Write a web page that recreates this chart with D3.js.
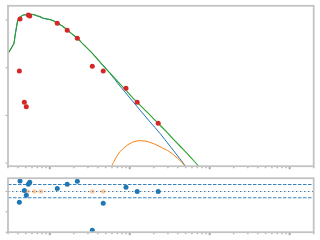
<!DOCTYPE html>
<html>
<head>
<meta charset="utf-8">
<script src="https://cdn.jsdelivr.net/npm/d3@7"></script>
<style>
  html, body { margin: 0; padding: 0; background: #fff; }
  svg { display: block; }
</style>
</head>
<body>
<div id="chart"></div>
<script>
// measured points (red) and their residuals (blue)
const dataX = [0.416, 0.424, 0.480, 0.508, 0.539, 0.561, 1.24, 1.65, 2.21, 3.40, 4.66, 8.97, 12.4, 22.7];
const dataY = [0.0853, 1.05, 0.0188, 0.0152, 1.27, 1.21, 0.853, 0.608, 0.413, 0.107, 0.0853, 0.037, 0.0188, 0.00683];
const resid = [-0.53, 0.51, 0.05, -0.19, 0.35, 0.45, 0.15, 0.35, 0.50, -1.91, -0.58, 0.20, 0.0, 0.0];

// points flagged at zero in the residual panel (orange)
const limX = [0.523, 0.640, 0.776, 3.40, 4.66];
const limY = [0, 0, 0, 0, 0];

// total model (green)
const greenX = [0.300, 0.347, 0.357, 0.367, 0.378, 0.393, 0.404, 0.433, 0.467, 0.514, 0.594, 0.686, 0.754, 0.830, 0.958,
  1.106, 1.277, 1.475, 1.703, 1.967, 2.271, 2.623, 3.497, 4.66, 6.22, 8.29, 11.06, 14.75, 19.67, 23.85, 31.8, 42.4, 56.6, 73.9, 82.2];
const greenY = [0.200, 0.299, 0.330, 0.462, 0.617, 0.908, 1.049, 1.173, 1.273, 1.291, 1.317, 1.230, 1.184, 1.085, 1.049,
  0.967, 0.824, 0.724, 0.588, 0.485, 0.400, 0.310, 0.191, 0.110, 0.0648, 0.0388, 0.0228, 0.01409, 0.00869, 0.00629,
  0.00379, 0.002283, 0.001375, 0.00084, 0.0007];

// first component (blue)
const blueX = [0.300, 0.347, 0.357, 0.367, 0.378, 0.393, 0.404, 0.433, 0.467, 0.514, 0.594, 0.686, 0.830, 1.106, 1.475,
  1.967, 2.623, 3.497, 4.242, 5.655, 7.54, 10.06, 13.41, 17.88, 23.85, 31.8, 42.4, 50.4, 54.95];
const blueY = [0.200, 0.299, 0.330, 0.462, 0.617, 0.908, 1.049, 1.173, 1.273, 1.291, 1.317, 1.230, 1.085, 0.967, 0.724,
  0.485, 0.310, 0.191, 0.1317, 0.0763, 0.04134, 0.02317, 0.01298, 0.00734, 0.004215, 0.002283, 0.00123, 0.00084, 0.0007];

// second component (orange)
const orangeX = [5.74, 5.94, 6.35, 6.86, 7.33, 7.92, 8.71, 10.06, 11.61, 13.41, 15.49, 17.88, 20.65, 23.85, 31.8, 42.4, 49.4, 51.9];
const orangeY = [0.00065, 0.00084, 0.00108, 0.001375, 0.00163, 0.001883, 0.002175, 0.002576, 0.002838, 0.002951, 0.002904,
  0.002729, 0.00249, 0.002208, 0.00171, 0.001133, 0.00084, 0.0007];

// reference lines in residual panel
const bandLevels = [0.34, -0.31];
const zeroLevel = 0;

const mainTicks = [1, 0.1, 0.01, 0.001];
const residTicks = [0, -1, -2];

const W = 320, H = 240;
const left = 8, right = 313.7;
const mainTop = 5.8, mainBottom = 166.2;
const resTop = 178.2, resBottom = 232.2;
const frame = '#c3c3c3';
const tickCol = '#b3b3b3';

const svg = d3.select('#chart').append('svg')
  .attr('width', W).attr('height', H);

const x = d3.scaleLog().domain([0.3, 2000]).range([left, right]);
const y = d3.scaleLog().domain([0.000861, 1.985]).range([mainBottom, mainTop]);
const yr = d3.scaleLinear().domain([-2, 0.65]).range([resBottom, resTop]);

svg.append('clipPath').attr('id', 'clipMain')
  .append('rect').attr('x', left).attr('y', mainTop)
  .attr('width', right - left).attr('height', mainBottom - mainTop);
svg.append('clipPath').attr('id', 'clipRes')
  .append('rect').attr('x', left).attr('y', resTop)
  .attr('width', right - left).attr('height', resBottom - resTop);

// x ticks (log, major + minor) under both panels
function xTicks(yPos) {
  const g = svg.append('g');
  x.ticks().forEach(function (t) {
    const isMajor = Math.abs(Math.log10(t) - Math.round(Math.log10(t))) < 1e-6;
    g.append('line')
      .attr('x1', x(t)).attr('x2', x(t))
      .attr('y1', yPos).attr('y2', yPos + (isMajor ? 3 : 2))
      .attr('stroke', isMajor ? '#a8a8a8' : tickCol)
      .attr('stroke-width', isMajor ? 2 : 1.4);
  });
}
xTicks(mainBottom);
xTicks(resBottom);

// y ticks
mainTicks.forEach(function (t) {
  svg.append('line')
    .attr('x1', left - 2.5).attr('x2', left)
    .attr('y1', y(t)).attr('y2', y(t))
    .attr('stroke', tickCol).attr('stroke-width', 1.2);
});
residTicks.forEach(function (t) {
  svg.append('line')
    .attr('x1', left - 2.5).attr('x2', left)
    .attr('y1', yr(t)).attr('y2', yr(t))
    .attr('stroke', tickCol).attr('stroke-width', 1.2);
});

// model curves
const line = d3.line()
  .curve(d3.curveMonotoneX)
  .x(function (d) { return x(d[0]); })
  .y(function (d) { return y(d[1]); });

const curves = svg.append('g').attr('clip-path', 'url(#clipMain)');
curves.append('path')
  .datum(blueX.map(function (v, i) { return [v, blueY[i]]; }))
  .attr('fill', 'none').attr('stroke', '#1f77b4').attr('stroke-width', 1)
  .attr('d', line);
curves.append('path')
  .datum(orangeX.map(function (v, i) { return [v, orangeY[i]]; }))
  .attr('fill', 'none').attr('stroke', '#ff7f0e').attr('stroke-width', 1)
  .attr('d', line);
curves.append('path')
  .datum(greenX.map(function (v, i) { return [v, greenY[i]]; }))
  .attr('fill', 'none').attr('stroke', '#2ca02c').attr('stroke-width', 1.1)
  .attr('d', line);

// measured points
curves.selectAll('circle.pt')
  .data(dataX.map(function (v, i) { return [v, dataY[i]]; }))
  .enter().append('circle')
  .attr('class', 'pt')
  .attr('cx', function (d) { return x(d[0]); })
  .attr('cy', function (d) { return y(d[1]); })
  .attr('r', 2.5)
  .attr('fill', '#d62728');

// residual panel
const res = svg.append('g').attr('clip-path', 'url(#clipRes)');
bandLevels.forEach(function (lv) {
  res.append('line')
    .attr('x1', left).attr('x2', right)
    .attr('y1', yr(lv)).attr('y2', yr(lv))
    .attr('stroke', '#3a82bd').attr('stroke-width', 1.1)
    .attr('stroke-dasharray', '3.5,1.5');
});
res.append('line')
  .attr('x1', left).attr('x2', right)
  .attr('y1', yr(zeroLevel)).attr('y2', yr(zeroLevel))
  .attr('stroke', '#a9cbe4').attr('stroke-width', 1.1)
  .attr('stroke-dasharray', '2.5,1.5');
res.append('line')
  .attr('x1', left).attr('x2', right)
  .attr('y1', yr(zeroLevel)).attr('y2', yr(zeroLevel))
  .attr('stroke', '#55708a').attr('stroke-width', 1.1)
  .attr('stroke-dasharray', '1,3');

res.selectAll('circle.lim')
  .data(limX.map(function (v, i) { return [v, limY[i]]; }))
  .enter().append('circle')
  .attr('class', 'lim')
  .attr('cx', function (d) { return x(d[0]); })
  .attr('cy', function (d) { return yr(d[1]); })
  .attr('r', 2.3)
  .attr('fill', '#ff7f0e').attr('fill-opacity', 0.4);

res.selectAll('circle.res')
  .data(dataX.map(function (v, i) { return [v, resid[i]]; }))
  .enter().append('circle')
  .attr('class', 'res')
  .attr('cx', function (d) { return x(d[0]); })
  .attr('cy', function (d) { return yr(d[1]); })
  .attr('r', 2.5)
  .attr('fill', '#1f77b4');

// frames
[[mainTop, mainBottom], [resTop, resBottom]].forEach(function (p) {
  svg.append('rect')
    .attr('x', left).attr('y', p[0])
    .attr('width', right - left).attr('height', p[1] - p[0])
    .attr('fill', 'none').attr('stroke', frame).attr('stroke-width', 1.8);
});
</script>
</body>
</html>
